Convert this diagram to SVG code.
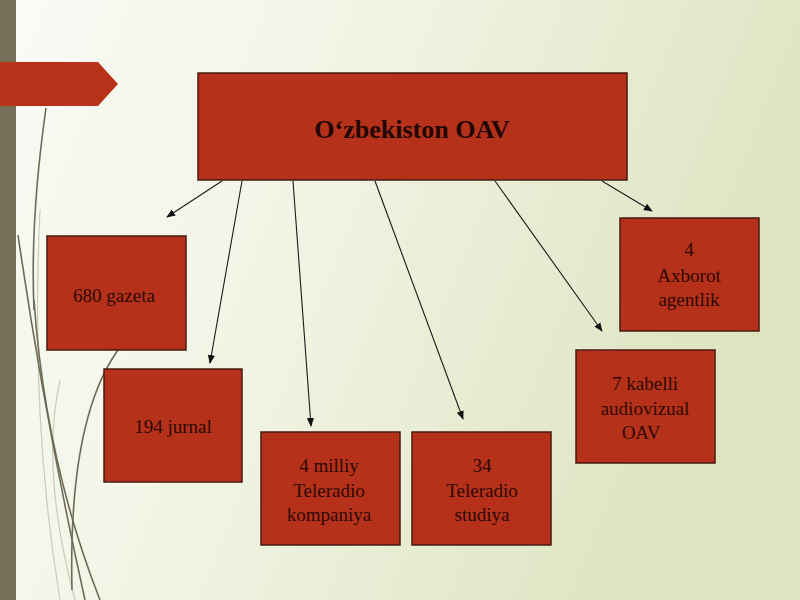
<svg xmlns="http://www.w3.org/2000/svg" width="800" height="600" viewBox="0 0 800 600">
  <defs>
    <linearGradient id="bg" x1="0" y1="0" x2="1" y2="0.3">
      <stop offset="0" stop-color="#fafbf6"/>
      <stop offset="0.45" stop-color="#f0f4e4"/>
      <stop offset="1" stop-color="#dde4c0"/>
    </linearGradient>
    <marker id="ah" viewBox="0 0 10 10" refX="9" refY="5" markerWidth="9" markerHeight="9" orient="auto" markerUnits="userSpaceOnUse">
      <path d="M0,1 L10,5 L0,9 Z" fill="#111"/>
    </marker>
    <style>
      .box { fill: #b5311a; stroke: #4a1a10; stroke-width: 1.5; }
      .t { font-family: "Liberation Serif", "Times New Roman", serif; font-size: 19px; fill: #2e0905; text-anchor: middle; }
      .title { font-family: "Liberation Serif", "Times New Roman", serif; font-size: 26px; font-weight: bold; fill: #220604; text-anchor: middle; }
      .conn { stroke: #1a1a1a; stroke-width: 1.1; fill: none; marker-end: url(#ah); }
      .deco { fill: none; stroke: #6f6a58; stroke-width: 1.6; }
      .decol { fill: none; stroke: #c9ccb8; stroke-width: 1.2; }
    </style>
  </defs>

  <!-- background -->
  <rect x="0" y="0" width="800" height="600" fill="url(#bg)"/>
  <rect x="0" y="0" width="16" height="600" fill="#786f5a"/>

  <!-- decorative curves -->
  <g id="decor">
    <path class="decol" d="M60,380 Q40,470 75,600"/>
    <path class="decol" d="M40,210 Q30,420 60,600"/>
    <path class="deco" d="M46,108 Q30,220 34,310"/>
    <path class="deco" d="M18,235 Q45,420 85,600"/>
    <path class="deco" d="M34,300 Q45,460 100,600"/>
    <path class="deco" d="M118,350 Q68,420 72,590"/>
  </g>

  <!-- red tab -->
  <path d="M0,62 L98,62 L118,84 L98,106 L0,106 Z" fill="#b8321a"/>

  <!-- connectors -->
  <g id="connectors">
    <line class="conn" x1="222" y1="181" x2="167" y2="217"/>
    <line class="conn" x1="242" y1="181" x2="210" y2="363"/>
    <line class="conn" x1="293" y1="181" x2="311" y2="426"/>
    <line class="conn" x1="375" y1="181" x2="463" y2="419"/>
    <line class="conn" x1="495" y1="181" x2="602" y2="331"/>
    <line class="conn" x1="602" y1="181" x2="652" y2="211"/>
  </g>

  <g id="main">
    <rect class="box" x="198" y="73" width="429" height="107"/>
    <text class="title" x="412" y="138">Oʻzbekiston OAV</text>
  </g>

  <g id="gazeta">
    <rect class="box" x="47" y="236" width="139" height="114"/>
    <text class="t" x="114" y="302">680 gazeta</text>
  </g>

  <g id="jurnal">
    <rect class="box" x="104" y="369" width="138" height="113"/>
    <text class="t" x="173" y="433">194 jurnal</text>
  </g>

  <g id="kompaniya">
    <rect class="box" x="261" y="432" width="139" height="113"/>
    <text class="t" x="329" y="472">4 milliy</text>
    <text class="t" x="329" y="497">Teleradio</text>
    <text class="t" x="329" y="521">kompaniya</text>
  </g>

  <g id="studiya">
    <rect class="box" x="412" y="432" width="139" height="113"/>
    <text class="t" x="482" y="472">34</text>
    <text class="t" x="482" y="497">Teleradio</text>
    <text class="t" x="482" y="521">studiya</text>
  </g>

  <g id="kabelli">
    <rect class="box" x="576" y="350" width="139" height="113"/>
    <text class="t" x="645" y="390">7 kabelli</text>
    <text class="t" x="645" y="415">audiovizual</text>
    <text class="t" x="641" y="439">OAV</text>
  </g>

  <g id="agentlik">
    <rect class="box" x="620" y="218" width="139" height="113"/>
    <text class="t" x="689" y="256">4</text>
    <text class="t" x="689" y="282">Axborot</text>
    <text class="t" x="689" y="306">agentlik</text>
  </g>
</svg>
